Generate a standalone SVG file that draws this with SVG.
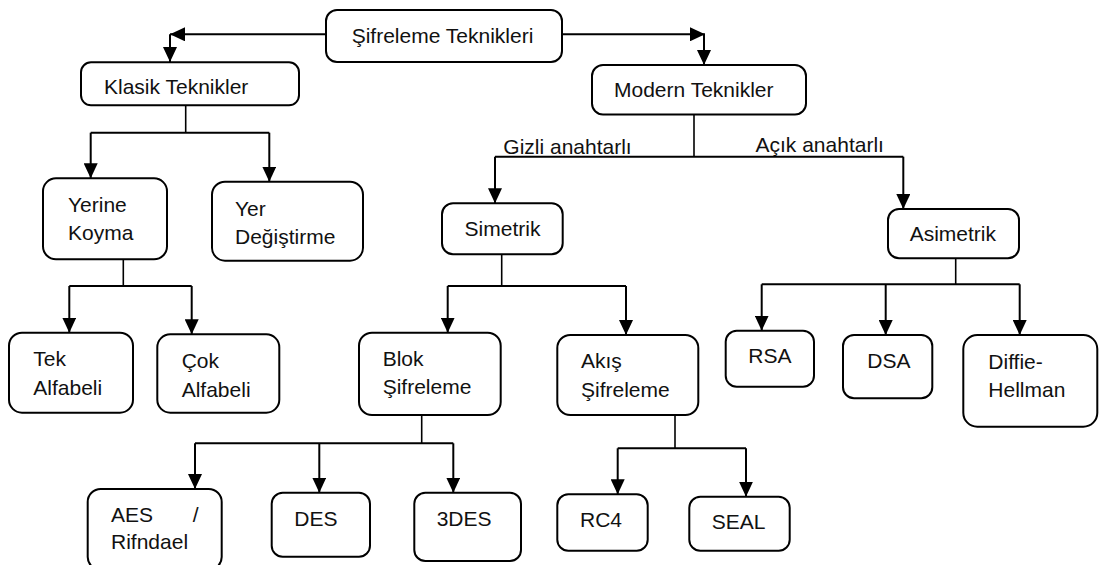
<svg xmlns="http://www.w3.org/2000/svg" width="1099" height="565" viewBox="0 0 1099 565">
<style>
.box{fill:#fff;stroke:#000;stroke-width:2}
text{font-family:"Liberation Sans",Arial,sans-serif;font-size:21px;fill:#111}
.c line,.c path{stroke:#000;stroke-width:2;fill:none}
.c .stem{stroke-width:1.6}
.c .a{marker-end:url(#ah)}
</style>
<defs>
<marker id="ah" markerUnits="userSpaceOnUse" markerWidth="15" markerHeight="14" refX="15" refY="7" orient="auto">
<path d="M0,0 L15,7 L0,14 z" fill="#000"/>
</marker>
</defs>
<g class="c" id="connectors">
<line class="a" x1="326" y1="34.3" x2="170" y2="34.3"/>
<line class="a" x1="170" y1="34.3" x2="170" y2="62"/>
<line class="a" x1="562" y1="34.3" x2="705" y2="34.3"/>
<line class="a" x1="704" y1="34.3" x2="704" y2="65"/>
<line class="stem" x1="185.7" y1="105" x2="185.7" y2="132.7"/>
<line x1="90.7" y1="132.7" x2="269.3" y2="132.7"/>
<line class="a" x1="90.7" y1="132.7" x2="90.7" y2="178.3"/>
<line class="a" x1="269.3" y1="132.7" x2="269.3" y2="181.7"/>
<line class="stem" x1="123.3" y1="259.3" x2="123.3" y2="286"/>
<line x1="69.3" y1="286" x2="191.7" y2="286"/>
<line class="a" x1="69.3" y1="286" x2="69.3" y2="332.7"/>
<line class="a" x1="191.7" y1="286" x2="191.7" y2="334.3"/>
<line class="stem" x1="694" y1="114.5" x2="694" y2="156.7"/>
<line x1="495" y1="156.7" x2="903.3" y2="156.7"/>
<line class="a" x1="495" y1="156.7" x2="495" y2="203.3"/>
<line class="a" x1="903.3" y1="156.7" x2="903.3" y2="209"/>
<line class="stem" x1="501.7" y1="254.3" x2="501.7" y2="286"/>
<line x1="447.7" y1="286" x2="626" y2="286"/>
<line class="a" x1="447.7" y1="286" x2="447.7" y2="332.7"/>
<line class="a" x1="626" y1="286" x2="626" y2="335"/>
<line class="stem" x1="955.7" y1="258.3" x2="955.7" y2="284.3"/>
<line x1="761.7" y1="284.3" x2="1019.7" y2="284.3"/>
<line class="a" x1="761.7" y1="284.3" x2="761.7" y2="330.7"/>
<line class="a" x1="885.7" y1="284.3" x2="885.7" y2="335"/>
<line class="a" x1="1019.7" y1="284.3" x2="1019.7" y2="335"/>
<line class="stem" x1="421.7" y1="415" x2="421.7" y2="443.3"/>
<line x1="195" y1="443.3" x2="453.3" y2="443.3"/>
<line class="a" x1="195" y1="443.3" x2="195" y2="489"/>
<line class="a" x1="319.3" y1="443.3" x2="319.3" y2="492.7"/>
<line class="a" x1="453.3" y1="443.3" x2="453.3" y2="492.7"/>
<line class="stem" x1="675" y1="415" x2="675" y2="448.3"/>
<line x1="617.7" y1="448.3" x2="746" y2="448.3"/>
<line class="a" x1="617.7" y1="448.3" x2="617.7" y2="494.3"/>
<line class="a" x1="746" y1="448.3" x2="746" y2="496.7"/>
<text x="503.3" y="154">Gizli anahtarlı</text>
<text x="755.5" y="152.3">Açık anahtarlı</text>
</g>
<g id="n-sifreleme"><rect class="box" x="326" y="10" width="236" height="52" rx="11"/><text x="351.7" y="42.7">Şifreleme Teknikleri</text></g>
<g id="n-klasik"><rect class="box" x="81" y="62.3" width="218" height="43" rx="10"/><text x="104" y="94">Klasik Teknikler</text></g>
<g id="n-modern"><rect class="box" x="592" y="65" width="214" height="49.5" rx="11"/><text x="614" y="96.7">Modern Teknikler</text></g>
<g id="n-yerine"><rect class="box" x="43" y="178.3" width="124" height="81" rx="13"/><text x="68" y="211.7">Yerine</text><text x="68" y="240">Koyma</text></g>
<g id="n-yer"><rect class="box" x="212" y="181.7" width="151" height="79" rx="13"/><text x="235" y="216">Yer</text><text x="235" y="244">Değiştirme</text></g>
<g id="n-tek"><rect class="box" x="9" y="332.7" width="124" height="80" rx="13"/><text x="33.3" y="366">Tek</text><text x="33.3" y="395">Alfabeli</text></g>
<g id="n-cok"><rect class="box" x="157.3" y="334.3" width="122" height="78.4" rx="13"/><text x="181.7" y="368.3">Çok</text><text x="181.7" y="396.7">Alfabeli</text></g>
<g id="n-simetrik"><rect class="box" x="442" y="203.3" width="120.7" height="51" rx="11"/><text x="464.6" y="236">Simetrik</text></g>
<g id="n-asimetrik"><rect class="box" x="888" y="209" width="131" height="49.3" rx="11"/><text x="909.7" y="240.7">Asimetrik</text></g>
<g id="n-blok"><rect class="box" x="359" y="332.7" width="141.7" height="82.3" rx="13"/><text x="382.7" y="366">Blok</text><text x="382.7" y="394">Şifreleme</text></g>
<g id="n-akis"><rect class="box" x="557.3" y="335" width="141" height="80" rx="13"/><text x="581" y="368.3">Akış</text><text x="581" y="396.7">Şifreleme</text></g>
<g id="n-rsa"><rect class="box" x="725.7" y="330.7" width="88.3" height="56" rx="11"/><text x="748.3" y="362.7">RSA</text></g>
<g id="n-dsa"><rect class="box" x="843" y="335" width="89.3" height="63.3" rx="11"/><text x="867.3" y="368.3">DSA</text></g>
<g id="n-diffie"><rect class="box" x="963.3" y="335" width="134" height="91.7" rx="14"/><text x="988.3" y="369.3">Diffie-</text><text x="988.3" y="396.7">Hellman</text></g>
<g id="n-aes"><rect class="box" x="87.7" y="489" width="134" height="81" rx="13"/><text x="111" y="521.7">AES</text><text x="192.7" y="521.7">/</text><text x="111" y="549.3">Rifndael</text></g>
<g id="n-des"><rect class="box" x="271.7" y="492.7" width="98.3" height="64" rx="11"/><text x="294.3" y="526">DES</text></g>
<g id="n-3des"><rect class="box" x="414.3" y="492.7" width="106.7" height="68.3" rx="11"/><text x="436.7" y="525.7">3DES</text></g>
<g id="n-rc4"><rect class="box" x="557.3" y="494.3" width="90.4" height="56.4" rx="11"/><text x="580" y="526.7">RC4</text></g>
<g id="n-seal"><rect class="box" x="689.3" y="496.7" width="100.4" height="54" rx="11"/><text x="711.7" y="529">SEAL</text></g>
</svg>
